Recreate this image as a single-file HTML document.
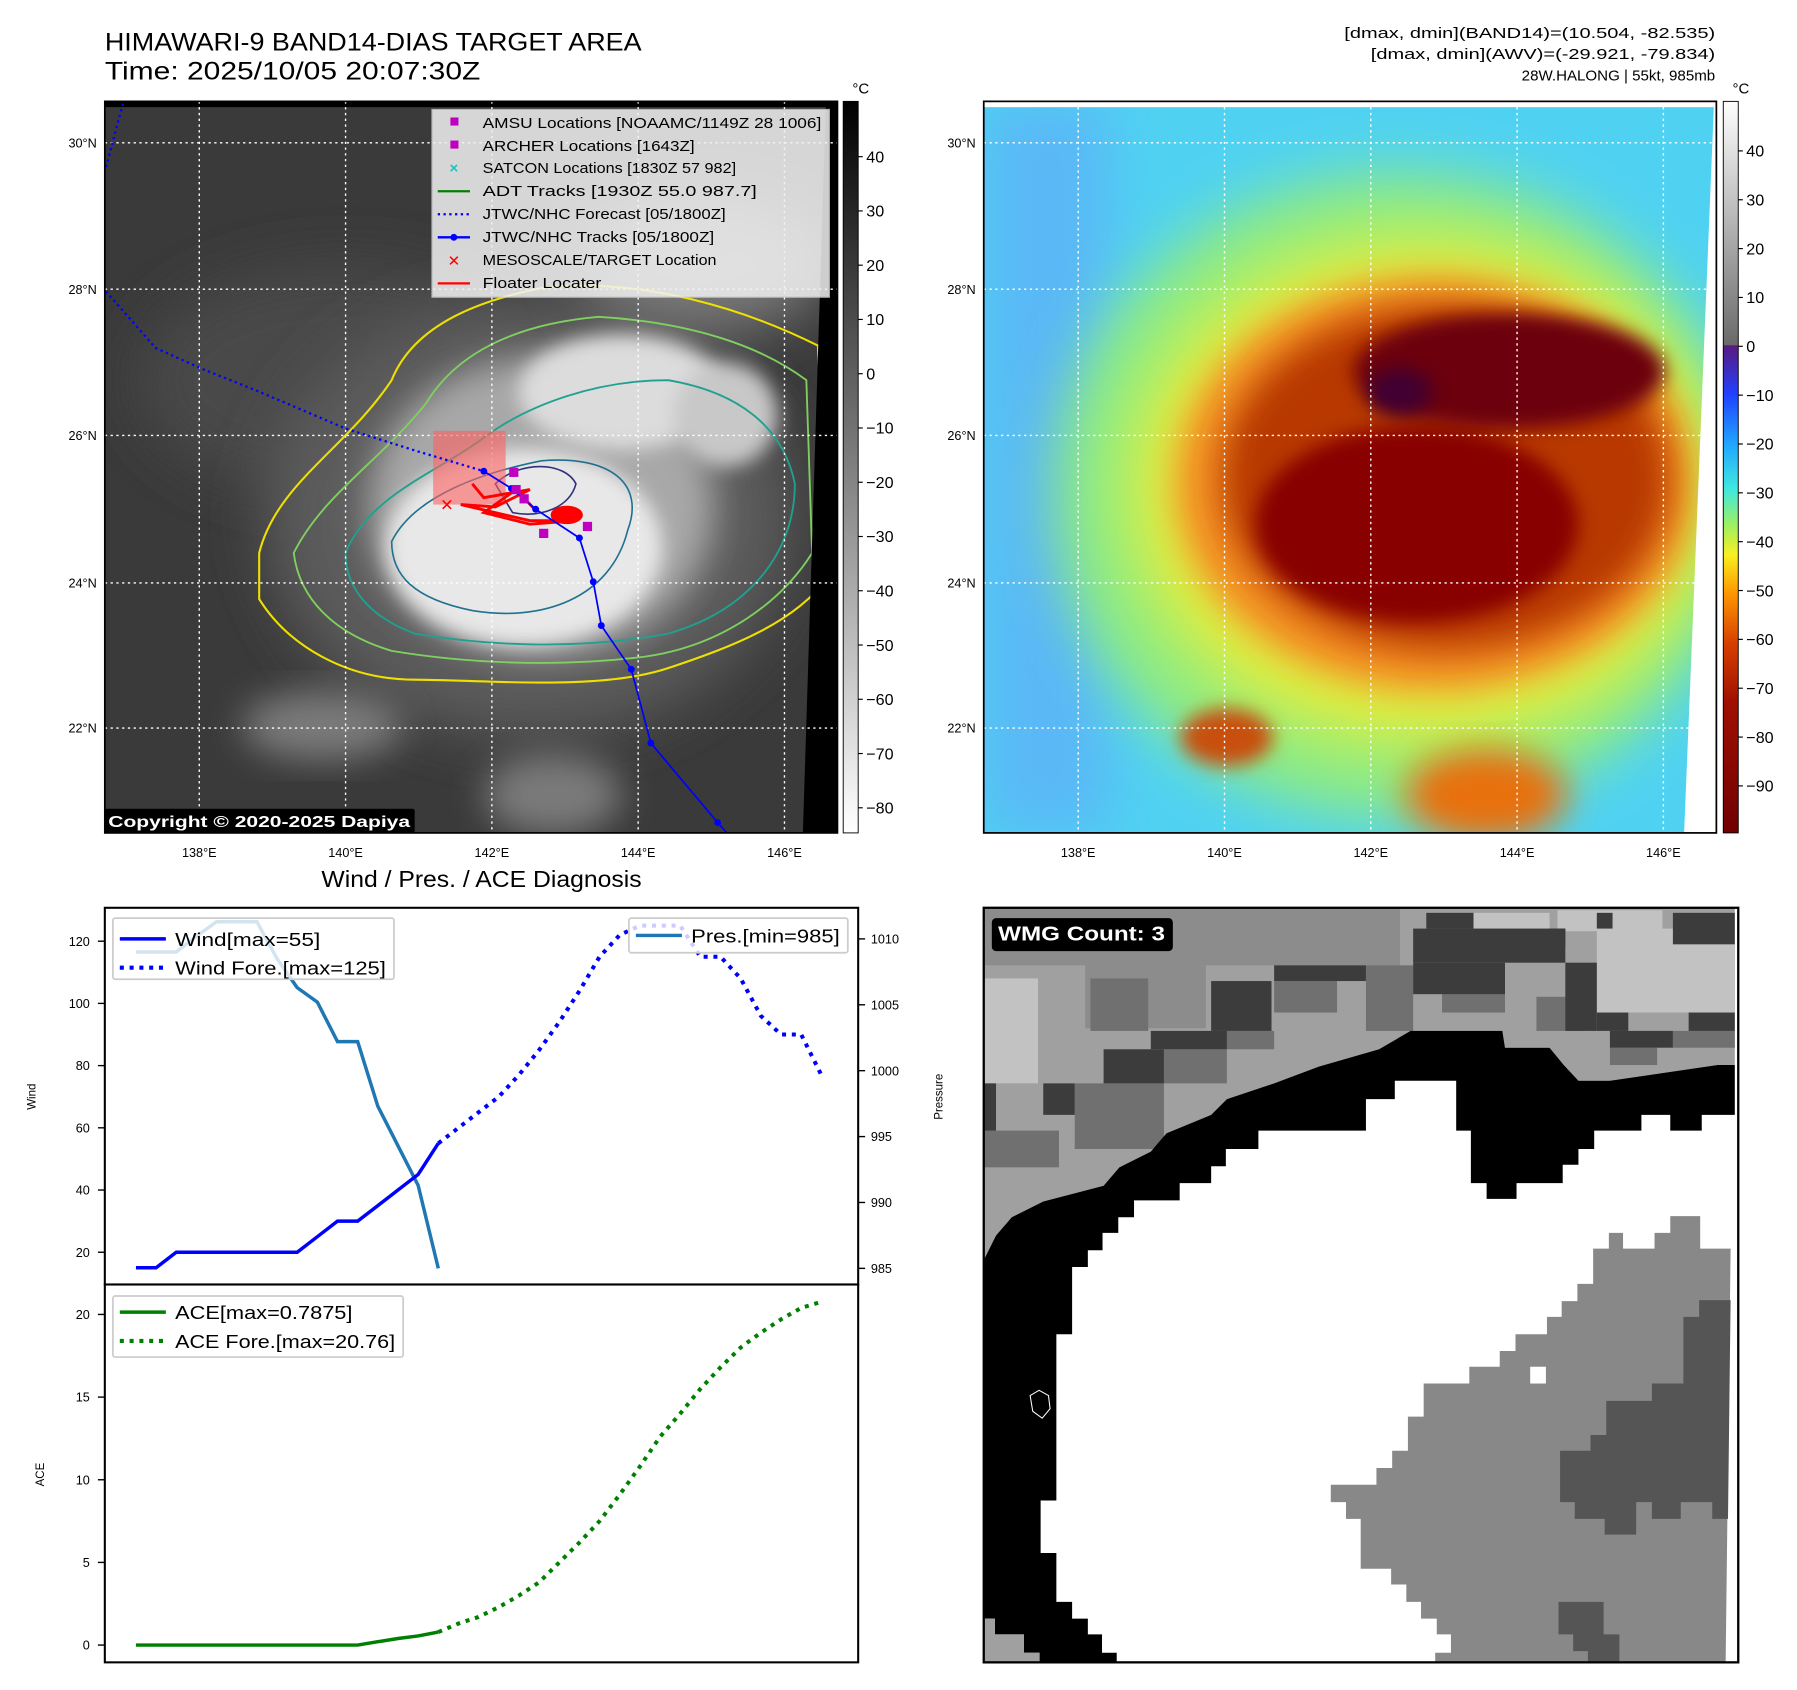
<!DOCTYPE html>
<html><head><meta charset="utf-8"><style>
html,body{margin:0;padding:0;background:#fff}
svg{display:block;font-family:"Liberation Sans","DejaVu Sans",sans-serif}
</style></head><body>
<svg id="root" width="1797" height="1690" viewBox="0 0 1560 1467" preserveAspectRatio="none" xmlns="http://www.w3.org/2000/svg">
<defs>
<filter id="b8" x="-30%" y="-30%" width="160%" height="160%"><feGaussianBlur stdDeviation="8"/></filter>
<filter id="b15" x="-30%" y="-30%" width="160%" height="160%"><feGaussianBlur stdDeviation="15"/></filter>
<filter id="b25" x="-40%" y="-40%" width="180%" height="180%"><feGaussianBlur stdDeviation="25"/></filter>
<clipPath id="c1"><rect x="91" y="88" width="636" height="635"/></clipPath>
<clipPath id="c2"><rect x="854" y="88" width="636" height="635"/></clipPath>
<clipPath id="c3"><rect x="854" y="788" width="655" height="655"/></clipPath>
<linearGradient id="gcb1" x1="0" y1="0" x2="0" y2="1"><stop offset="0" stop-color="#000"/><stop offset="1" stop-color="#fff"/></linearGradient>
<linearGradient id="gcb2" x1="0" y1="0" x2="0" y2="1">
<stop offset="0" stop-color="#ffffff"/><stop offset="0.333" stop-color="#6a6a6a"/>
<stop offset="0.334" stop-color="#5a1a80"/><stop offset="0.40" stop-color="#2040ff"/>
<stop offset="0.47" stop-color="#20a8ff"/><stop offset="0.53" stop-color="#40e8e0"/>
<stop offset="0.58" stop-color="#a0f060"/><stop offset="0.62" stop-color="#f8f020"/>
<stop offset="0.67" stop-color="#ff9a00"/><stop offset="0.74" stop-color="#d84000"/>
<stop offset="0.82" stop-color="#a01000"/><stop offset="1" stop-color="#700000"/>
</linearGradient>
</defs>

<text x="91" y="44" font-size="22" textLength="466" lengthAdjust="spacingAndGlyphs" fill="#000">HIMAWARI-9 BAND14-DIAS TARGET AREA</text>
<text x="91" y="69" font-size="22" textLength="326" lengthAdjust="spacingAndGlyphs" fill="#000">Time: 2025/10/05 20:07:30Z</text>
<g font-size="13" text-anchor="end" fill="#000">
<text x="1489" y="33" textLength="322" lengthAdjust="spacingAndGlyphs">[dmax, dmin](BAND14)=(10.504, -82.535)</text>
<text x="1489" y="51" textLength="299" lengthAdjust="spacingAndGlyphs">[dmax, dmin](AWV)=(-29.921, -79.834)</text>
<text x="1489" y="70" textLength="168" lengthAdjust="spacingAndGlyphs">28W.HALONG | 55kt, 985mb</text>
</g>

<g clip-path="url(#c1)">
<rect x="91" y="88" width="636" height="635" fill="#3a3a3a"/>
<ellipse cx="300" cy="330" rx="180" ry="100" fill="#4a4a4a" filter="url(#b25)"/>
<ellipse cx="460" cy="450" rx="230" ry="190" fill="#5c5c5c" filter="url(#b25)"/>
<ellipse cx="280" cy="630" rx="70" ry="30" fill="#7a7a7a" filter="url(#b15)"/>
<ellipse cx="480" cy="690" rx="60" ry="35" fill="#7a7a7a" filter="url(#b15)"/>
<ellipse cx="610" cy="230" rx="110" ry="60" fill="#7a7a7a" filter="url(#b25)"/>
<ellipse cx="470" cy="440" rx="150" ry="130" fill="#a8a8a8" filter="url(#b15)"/>
<ellipse cx="455" cy="475" rx="120" ry="85" fill="#e8e8e8" filter="url(#b8)"/>
<ellipse cx="540" cy="340" rx="90" ry="50" fill="#dcdcdc" filter="url(#b8)"/>
<ellipse cx="630" cy="360" rx="45" ry="45" fill="#c8c8c8" filter="url(#b8)"/>
<path d="M225,480 C240,420 300,390 340,330 C360,280 420,260 470,250 C560,240 650,270 710,300 L720,500 C690,540 640,560 580,580 C520,600 420,590 360,590 C300,590 250,560 225,520 Z" fill="none" stroke="#f0e000" stroke-width="1.8"/>
<path d="M255,480 C280,430 330,400 370,350 C400,300 460,280 520,275 C600,280 660,300 700,330 L705,480 C680,520 630,560 560,570 C480,580 400,575 340,565 C290,550 260,520 255,480 Z" fill="none" stroke="#80d060" stroke-width="1.6"/>
<path d="M300,480 C320,430 380,410 420,380 C460,350 520,330 580,330 C640,340 680,370 690,420 C690,480 650,530 580,550 C500,565 420,560 360,550 C320,535 300,510 300,480 Z" fill="none" stroke="#20a090" stroke-width="1.6"/>
<path d="M340,470 C360,430 420,410 470,400 C530,395 560,420 545,460 C530,520 470,540 410,530 C360,520 340,500 340,470 Z" fill="none" stroke="#207090" stroke-width="1.4"/>
<path d="M430,420 C450,400 490,400 500,420 C495,440 470,450 445,445 Z" fill="none" stroke="#303080" stroke-width="1.4"/>
<polygon points="717,88 727,88 727,723 697,723" fill="#000"/>
<rect x="91" y="88" width="636" height="5" fill="#000"/>
<g stroke="#fff" stroke-width="1.2" stroke-dasharray="2 3" fill="none">
<line x1="173" y1="88" x2="173" y2="723"/><line x1="300" y1="88" x2="300" y2="723"/><line x1="427" y1="88" x2="427" y2="723"/><line x1="554" y1="88" x2="554" y2="723"/><line x1="681" y1="88" x2="681" y2="723"/>
<line x1="91" y1="124" x2="727" y2="124"/><line x1="91" y1="251" x2="727" y2="251"/><line x1="91" y1="378" x2="727" y2="378"/><line x1="91" y1="506" x2="727" y2="506"/><line x1="91" y1="632" x2="727" y2="632"/>
</g>
<rect x="376" y="374" width="63" height="64" fill="#ff6060" opacity="0.6"/>
<polyline points="92,253 135,302 175,320 225,340 300,372 360,391 420,409" fill="none" stroke="#0000ff" stroke-width="2" stroke-dasharray="2 3"/>
<polyline points="92,145 107,89" fill="none" stroke="#0000ff" stroke-width="2" stroke-dasharray="2 3"/>
<polyline points="410,420 420,432 460,425 430,440 400,438 460,452 500,452 460,455 420,445 448,425 465,443" fill="none" stroke="#ff0000" stroke-width="2.5"/>
<ellipse cx="492" cy="447" rx="14" ry="8" fill="#ff0000"/>
<polyline points="420,409 444,424 465,442 503,467 515,505 522,543 548,581 565,645 623,714 631,723" fill="none" stroke="#0000ff" stroke-width="1.5"/>
<g fill="#0000ff"><circle cx="420" cy="409" r="3"/><circle cx="444" cy="424" r="3"/><circle cx="465" cy="442" r="3"/><circle cx="503" cy="467" r="3"/><circle cx="515" cy="505" r="3"/><circle cx="522" cy="543" r="3"/><circle cx="548" cy="581" r="3"/><circle cx="565" cy="645" r="3"/><circle cx="623" cy="714" r="3"/></g>
<g fill="#c000c0"><rect x="442" y="406" width="8" height="8"/><rect x="444" y="421" width="8" height="8"/><rect x="451" y="429" width="8" height="8"/><rect x="468" y="459" width="8" height="8"/><rect x="506" y="453" width="8" height="8"/></g>
<text x="388" y="443" font-size="14" font-weight="bold" fill="#ff0000" text-anchor="middle">✕</text>
</g>
<rect x="91" y="88" width="636" height="635" fill="none" stroke="#000" stroke-width="1.5"/>
<g font-size="13" fill="#000">
<rect x="375" y="95" width="345" height="163" fill="#f2f2f2" opacity="0.85" stroke="#ccc"/>
<rect x="391" y="102" width="7" height="7" fill="#c000c0"/><text x="419" y="111" textLength="294" lengthAdjust="spacingAndGlyphs">AMSU Locations [NOAAMC/1149Z 28 1006]</text>
<rect x="391" y="122" width="7" height="7" fill="#c000c0"/><text x="419" y="131" textLength="184" lengthAdjust="spacingAndGlyphs">ARCHER Locations [1643Z]</text>
<text x="394" y="150" fill="#20c0c0" font-size="13" text-anchor="middle" font-weight="bold">×</text><text x="419" y="150" textLength="220" lengthAdjust="spacingAndGlyphs">SATCON Locations [1830Z 57 982]</text>
<line x1="380" y1="166" x2="408" y2="166" stroke="#008000" stroke-width="2"/><text x="419" y="170" textLength="238" lengthAdjust="spacingAndGlyphs">ADT Tracks [1930Z 55.0 987.7]</text>
<line x1="380" y1="186" x2="408" y2="186" stroke="#0000ff" stroke-width="2" stroke-dasharray="2 3"/><text x="419" y="190" textLength="211" lengthAdjust="spacingAndGlyphs">JTWC/NHC Forecast [05/1800Z]</text>
<line x1="380" y1="206" x2="408" y2="206" stroke="#0000ff" stroke-width="2"/><circle cx="394" cy="206" r="3" fill="#0000ff"/><text x="419" y="210" textLength="201" lengthAdjust="spacingAndGlyphs">JTWC/NHC Tracks [05/1800Z]</text>
<text x="394" y="231" fill="#ff0000" font-size="13" text-anchor="middle" font-weight="bold">✕</text><text x="419" y="230" textLength="203" lengthAdjust="spacingAndGlyphs">MESOSCALE/TARGET Location</text>
<line x1="380" y1="246" x2="408" y2="246" stroke="#ff0000" stroke-width="2"/><text x="419" y="250" textLength="103" lengthAdjust="spacingAndGlyphs">Floater Locater</text>
</g>
<rect x="91" y="702" width="269" height="21" fill="#000" rx="2"/>
<text x="94" y="718" font-size="14" font-weight="bold" fill="#fff" textLength="262" lengthAdjust="spacingAndGlyphs">Copyright © 2020-2025 Dapiya</text>
<g font-size="11" fill="#000">
<g text-anchor="middle"><text x="173" y="744">138°E</text><text x="300" y="744">140°E</text><text x="427" y="744">142°E</text><text x="554" y="744">144°E</text><text x="681" y="744">146°E</text></g>
<g text-anchor="end"><text x="84" y="128">30°N</text><text x="84" y="255">28°N</text><text x="84" y="382">26°N</text><text x="84" y="510">24°N</text><text x="84" y="636">22°N</text></g>
</g>
<rect x="732" y="88" width="13" height="635" fill="url(#gcb1)" stroke="#000" stroke-width="0.8"/>
<text x="740" y="81" font-size="13">°C</text>
<g id="cb1ticks" font-size="14" fill="#000"></g>

<g clip-path="url(#c2)">
<rect x="854" y="88" width="636" height="635" fill="#4fd2f2"/>
<rect x="854" y="88" width="110" height="635" fill="#5ab8f6" filter="url(#b25)"/>
<ellipse cx="1215" cy="430" rx="300" ry="280" fill="#90ec80" filter="url(#b25)"/>
<ellipse cx="1235" cy="425" rx="255" ry="220" fill="#e0ee40" filter="url(#b25)"/>
<ellipse cx="1245" cy="420" rx="225" ry="180" fill="#f49020" filter="url(#b15)"/>
<ellipse cx="1255" cy="415" rx="195" ry="150" fill="#b83800" filter="url(#b15)"/>
<ellipse cx="1290" cy="690" rx="70" ry="40" fill="#e87010" filter="url(#b15)"/>
<ellipse cx="1065" cy="640" rx="40" ry="25" fill="#c85010" filter="url(#b8)"/>
<ellipse cx="1230" cy="455" rx="140" ry="85" fill="#880000" filter="url(#b8)"/>
<ellipse cx="1310" cy="322" rx="135" ry="50" fill="#6c0010" filter="url(#b8)"/>
<ellipse cx="1215" cy="340" rx="28" ry="20" fill="#400030" filter="url(#b8)"/>
<polygon points="1488,88 1490,88 1490,723 1462,723" fill="#fff"/>
<rect x="854" y="88" width="636" height="5" fill="#fff"/>
<g stroke="#fff" stroke-width="1.2" stroke-dasharray="2 3" fill="none">
<line x1="936" y1="88" x2="936" y2="723"/><line x1="1063" y1="88" x2="1063" y2="723"/><line x1="1190" y1="88" x2="1190" y2="723"/><line x1="1317" y1="88" x2="1317" y2="723"/><line x1="1444" y1="88" x2="1444" y2="723"/>
<line x1="854" y1="124" x2="1490" y2="124"/><line x1="854" y1="251" x2="1490" y2="251"/><line x1="854" y1="378" x2="1490" y2="378"/><line x1="854" y1="506" x2="1490" y2="506"/><line x1="854" y1="632" x2="1490" y2="632"/>
</g>
</g>
<rect x="854" y="88" width="636" height="635" fill="none" stroke="#000" stroke-width="1.5"/>
<g font-size="11" fill="#000">
<g text-anchor="middle"><text x="936" y="744">138°E</text><text x="1063" y="744">140°E</text><text x="1190" y="744">142°E</text><text x="1317" y="744">144°E</text><text x="1444" y="744">146°E</text></g>
<g text-anchor="end"><text x="847" y="128">30°N</text><text x="847" y="255">28°N</text><text x="847" y="382">26°N</text><text x="847" y="510">24°N</text><text x="847" y="636">22°N</text></g>
</g>
<rect x="1496" y="88" width="13" height="635" fill="url(#gcb2)" stroke="#000" stroke-width="0.8"/>
<text x="1504" y="81" font-size="13">°C</text>
<g id="cb2ticks" font-size="14" fill="#000"></g>

<g clip-path="url(#c3)">
<rect x="854" y="788" width="655" height="655" fill="#fff"/>
<g transform="translate(851,781) scale(0.4555)">
<polygon fill="#a0a0a0" points="0,5 1438,5 1438,315 1405,315 1200,345 1140,345 1112,315 1085,282 1000,282 995,250 820,250 760,285 645,318 560,350 470,380 440,410 355,445 325,480 265,510 235,545 120,575 60,605 30,640 0,700"/>
<g fill="#c2c2c2"><rect x="0" y="150" width="110" height="200"/><rect x="1175" y="55" width="263" height="160"/><rect x="940" y="25" width="145" height="30"/><rect x="1100" y="20" width="200" height="40"/></g>
<g fill="#8c8c8c"><rect x="0" y="5" width="800" height="120"/><rect x="200" y="125" width="230" height="120"/></g>
<g fill="#707070"><rect x="180" y="350" width="170" height="125"/><rect x="0" y="440" width="150" height="70"/><rect x="350" y="285" width="120" height="65"/><rect x="470" y="250" width="90" height="35"/><rect x="560" y="155" width="120" height="60"/><rect x="735" y="125" width="90" height="125"/><rect x="880" y="155" width="120" height="60"/><rect x="1060" y="185" width="90" height="65"/><rect x="1200" y="282" width="90" height="33"/><rect x="1320" y="250" width="118" height="32"/><rect x="210" y="150" width="110" height="100"/></g>
<g fill="#3c3c3c"><rect x="850" y="25" width="90" height="30"/><rect x="825" y="55" width="290" height="65"/><rect x="825" y="120" width="175" height="60"/><rect x="560" y="125" width="175" height="30"/><rect x="440" y="155" width="115" height="95"/><rect x="325" y="250" width="145" height="35"/><rect x="235" y="285" width="115" height="65"/><rect x="120" y="350" width="60" height="60"/><rect x="0" y="350" width="30" height="90"/><rect x="1320" y="25" width="118" height="60"/><rect x="1115" y="120" width="60" height="130"/><rect x="1175" y="215" width="60" height="35"/><rect x="1200" y="250" width="120" height="32"/><rect x="1350" y="215" width="88" height="35"/><rect x="1175" y="25" width="30" height="30"/><rect x="1085" y="55" width="30" height="35"/></g>
<polygon fill="#000" points="0,700 30,640 60,605 120,575 235,545 265,510 325,480 355,445 440,410 470,380 560,350 645,318 760,285 820,250 995,250 1000,282 1085,282 1112,315 1140,345 1200,345 1405,315 1438,315 1438,410 1375,410 1375,440 1315,440 1315,410 1260,410 1260,440 1170,440 1170,475 1140,475 1140,505 1110,505 1110,540 1022,540 1022,570 965,570 965,540 935,540 935,440 907,440 907,345 790,345 790,380 735,380 735,440 530,440 530,475 468,475 468,508 440,508 440,540 380,540 380,573 293,573 293,605 263,605 263,635 233,635 233,668 205,668 205,700 175,700 175,828 145,828 145,1145 115,1145 115,1245 145,1245 145,1338 175,1338 175,1370 205,1370 205,1400 232,1400 232,1435 260,1435 260,1468 288,1468 288,1500 113,1500 113,1435 83,1435 83,1400 28,1400 28,1370 0,1370"/>
<polygon fill="#a0a0a0" points="0,1370 28,1370 28,1400 83,1400 83,1435 113,1435 113,1500 0,1500"/>
<polygon fill="#888" points="668,1115 755,1115 755,1083 785,1083 785,1050 815,1050 815,985 845,985 845,922 932,922 932,890 990,890 990,860 1020,860 1020,828 1080,828 1080,795 1108,795 1108,765 1138,765 1138,732 1168,732 1168,665 1198,665 1198,635 1225,635 1225,665 1285,665 1285,635 1315,635 1315,603 1372,603 1372,665 1430,665 1420,1500 867,1500 867,1435 897,1435 897,1400 870,1400 870,1370 840,1370 840,1338 812,1338 812,1305 783,1305 783,1275 725,1275 725,1180 697,1180 697,1148 668,1148"/>
<rect x="1048" y="890" width="30" height="32" fill="#fff"/>
<polygon fill="#555" points="1370,763 1430,763 1425,1180 1395,1180 1395,1148 1335,1148 1335,1180 1280,1180 1280,1148 1250,1148 1250,1210 1190,1210 1190,1180 1133,1180 1133,1148 1105,1148 1105,1050 1163,1050 1163,1020 1193,1020 1193,955 1280,955 1280,922 1340,922 1340,795 1370,795"/>
<polygon fill="#555" points="1102,1338 1188,1338 1188,1400 1218,1400 1218,1500 1188,1500 1188,1465 1158,1465 1158,1432 1130,1432 1130,1400 1102,1400"/>
<polygon points="95,945 112,935 130,945 133,970 118,988 100,975" fill="none" stroke="#fff" stroke-width="2"/>
<rect x="22" y="35" width="345" height="63" rx="8" fill="#000"/>
<text x="34" y="78" font-size="38" font-weight="bold" fill="#fff" textLength="318" lengthAdjust="spacingAndGlyphs">WMG Count: 3</text>
</g>
</g>
<rect x="854" y="788" width="655" height="655" fill="none" stroke="#000" stroke-width="2"/>

<text x="418" y="770" font-size="20" text-anchor="middle" textLength="278" lengthAdjust="spacingAndGlyphs">Wind / Pres. / ACE Diagnosis</text>
<g id="charts"></g>
</svg>
<script>
var windObs = [15,15,20,20,20,20,20,20,20,25,30,30,35,40,45,55];
var windFore = [55,60,65,70,77,85,94,104,115,122,125,125,125,115,115,108,96,90,90,77];
var presObs = [1009,1009,1009,1010.2,1011.3,1011.3,1011.3,1008.5,1006.3,1005.2,1002.2,1002.2,997.3,994.3,991.3,985];
var aceObs = [0,0,0,0,0,0,0,0,0,0,0,0,0.2,0.4,0.55,0.7875];
var aceFore = [0.7875,1.3,1.7,2.3,3.0,3.8,5.0,6.2,7.5,9.1,10.8,12.6,14.0,15.5,16.8,18.0,18.9,19.7,20.4,20.76];
var windTicks = [20,40,60,80,100,120];
var presTicks = [985,990,995,1000,1005,1010];
var aceTicks = [0,5,10,15,20];
var cb1Ticks = [40,30,20,10,0,-10,-20,-30,-40,-50,-60,-70,-80];
var cb2Ticks = [40,30,20,10,0,-10,-20,-30,-40,-50,-60,-70,-80,-90];

var NS='http://www.w3.org/2000/svg';
function mk(tag, attrs, parent){var e=document.createElementNS(NS,tag);for(var k in attrs)e.setAttribute(k,attrs[k]);(parent||document.getElementById('charts')).appendChild(e);return e;}
function xS(i){return 118+i*17.5;}
function yW(v){return 817+(120-v)*2.7;}
function yP(v){return 815+(1010-v)*11.44;}
function yA(v){return 1428-v*14.35;}
function yC1(v){return 136+(40-v)*4.71;}
function yC2(v){return 131+(40-v)*4.24;}
function pts(arr,off,yf){return arr.map(function(v,i){return xS(i+off).toFixed(1)+','+yf(v).toFixed(1);}).join(' ');}

var cb1=document.getElementById('cb1ticks');
cb1Ticks.forEach(function(t){
  mk('line',{x1:745,x2:749,y1:yC1(t),y2:yC1(t),stroke:'#000'},cb1);
  var tx=mk('text',{x:752,y:yC1(t)+5},cb1);
  
  
  tx.textContent=(t<0?'\u2212'+(-t):t);
});
var cb2=document.getElementById('cb2ticks');
cb2Ticks.forEach(function(t){
  mk('line',{x1:1509,x2:1513,y1:yC2(t),y2:yC2(t),stroke:'#000'},cb2);
  var tx=mk('text',{x:1516,y:yC2(t)+5},cb2);
  
  
  tx.textContent=(t<0?'\u2212'+(-t):t);
});

mk('rect',{x:91,y:788,width:654,height:655,fill:'#fff'});
windTicks.forEach(function(t){
  mk('line',{x1:85,x2:91,y1:yW(t),y2:yW(t),stroke:'#000','stroke-width':1.2});
  var tx=mk('text',{x:78,y:yW(t)+4,'font-size':11,'text-anchor':'end'});
  
  
  tx.textContent=t;
});
presTicks.forEach(function(t){
  mk('line',{x1:745,x2:751,y1:yP(t),y2:yP(t),stroke:'#000','stroke-width':1.2});
  var tx=mk('text',{x:756,y:yP(t)+4,'font-size':11});
  
  
  tx.textContent=t;
});
aceTicks.forEach(function(t){
  mk('line',{x1:85,x2:91,y1:yA(t),y2:yA(t),stroke:'#000','stroke-width':1.2});
  var tx=mk('text',{x:78,y:yA(t)+4,'font-size':11,'text-anchor':'end'});
  
  
  tx.textContent=t;
});
var l1=mk('text',{x:0,y:0,'font-size':10,'text-anchor':'middle',transform:'translate(31,952) rotate(-90)'});l1.textContent='Wind';


var l2=mk('text',{x:0,y:0,'font-size':10,'text-anchor':'middle',transform:'translate(818,952) rotate(-90)'});l2.textContent='Pressure';


var l3=mk('text',{x:0,y:0,'font-size':10,'text-anchor':'middle',transform:'translate(38,1280) rotate(-90)'});l3.textContent='ACE';



var p1=mk('polyline',{points:pts(presObs,0,yP),fill:'none',stroke:'#1f77b4','stroke-width':3});


var w1=mk('polyline',{points:pts(windObs,0,yW),fill:'none',stroke:'#0000ff','stroke-width':3});


var w2=mk('polyline',{points:pts(windFore,15,yW),fill:'none',stroke:'#0000ff','stroke-width':3.5,'stroke-dasharray':'3.5 5'});


var a1=mk('polyline',{points:pts(aceObs,0,yA),fill:'none',stroke:'#008000','stroke-width':3});


var a2=mk('polyline',{points:pts(aceFore,15,yA),fill:'none',stroke:'#008000','stroke-width':3.5,'stroke-dasharray':'3.5 5'});



function lt(g,x,y,s,w){var t=mk('text',{x:x,y:y,textLength:w,lengthAdjust:'spacingAndGlyphs'},g);t.textContent=s;return t;}
var g1=mk('g',{'font-size':16});


mk('rect',{x:98,y:797,width:244,height:53,fill:'#fff','fill-opacity':0.8,stroke:'#ccc','stroke-width':1.5,rx:2},g1);
mk('line',{x1:104,x2:144,y1:815,y2:815,stroke:'#0000ff','stroke-width':3},g1);
mk('line',{x1:104,x2:144,y1:840,y2:840,stroke:'#0000ff','stroke-width':3.5,'stroke-dasharray':'3.5 5'},g1);
lt(g1,152,821,'Wind[max=55]',126);
lt(g1,152,846,'Wind Fore.[max=125]',183);
var g2=mk('g',{'font-size':16});


mk('rect',{x:546,y:797,width:190,height:30,fill:'#fff','fill-opacity':0.8,stroke:'#ccc','stroke-width':1.5,rx:2},g2);
mk('line',{x1:552,x2:592,y1:812,y2:812,stroke:'#1f77b4','stroke-width':3},g2);
lt(g2,600,818,'Pres.[min=985]',129);
var g3=mk('g',{'font-size':16});


mk('rect',{x:98,y:1125,width:252,height:53,fill:'#fff','fill-opacity':0.8,stroke:'#ccc','stroke-width':1.5,rx:2},g3);
mk('line',{x1:104,x2:144,y1:1139,y2:1139,stroke:'#008000','stroke-width':3},g3);
mk('line',{x1:104,x2:144,y1:1164,y2:1164,stroke:'#008000','stroke-width':3.5,'stroke-dasharray':'3.5 5'},g3);
lt(g3,152,1145,'ACE[max=0.7875]',154);
lt(g3,152,1170,'ACE Fore.[max=20.76]',191);

mk('rect',{x:91,y:788,width:654,height:327,fill:'none',stroke:'#000','stroke-width':1.8});
mk('rect',{x:91,y:1115,width:654,height:328,fill:'none',stroke:'#000','stroke-width':1.8});
</script>
</body></html>
